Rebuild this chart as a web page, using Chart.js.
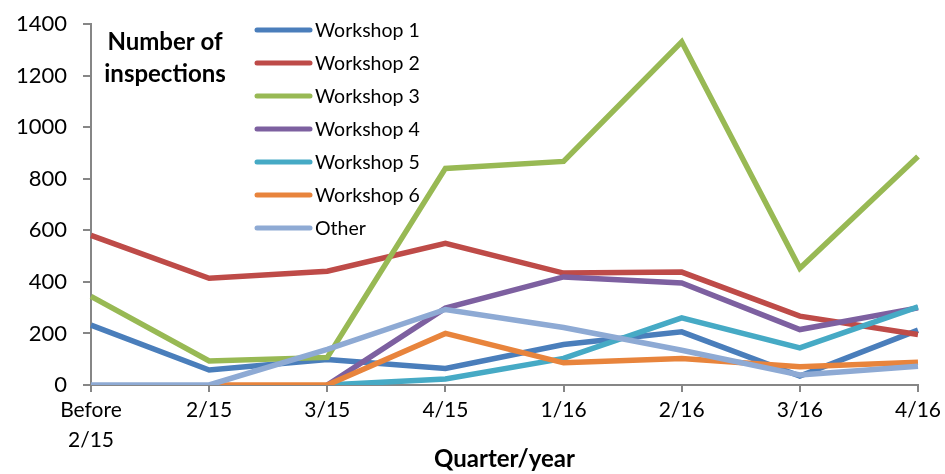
<!DOCTYPE html>
<html>
<head>
    <title>Inspections per quarter</title>
    <style>
        body{ margin:0; background:white; }
        #wrap{ width:945px; height:474px; }
    </style>
</head>
<body>
<div id="wrap"><canvas id="inspections"></canvas></div>

<script src="https://cdn.jsdelivr.net/npm/chart.js@4.4.1/dist/chart.umd.min.js"></script>
<script>
    const quarters = [["Before", "2/15"], "2/15", "3/15", "4/15", "1/16", "2/16", "3/16", "4/16"];
    const yTicks = [0, 200, 400, 600, 800, 1000, 1200, 1400];

    const workshop1 = [232, 58, 99, 64, 157, 206, 35, 213];
    const workshop2 = [580, 414, 441, 549, 434, 438, 267, 196];
    const workshop3 = [344, 93, 107, 840, 867, 1331, 453, 886];
    const workshop4 = [null, null, 0, 298, 419, 396, 215, 299];
    const workshop5 = [null, null, 0, 23, 103, 260, 144, 303];
    const workshop6 = [null, 0, 0, 200, 86, 103, 71, 88];
    const other = [0, 0, 138, 293, 223, 135, 39, 73];

    const seriesNames = ["Workshop 1", "Workshop 2", "Workshop 3", "Workshop 4", "Workshop 5", "Workshop 6", "Other"];
    const seriesData = [workshop1, workshop2, workshop3, workshop4, workshop5, workshop6, other];
    const colors = ["#4A7EBB", "#BE4B48", "#98B954", "#7D60A0", "#46AAC5", "#E8843C", "#8EAAD4"];

    const FONT = "Lato, 'Liberation Sans', sans-serif";

    // legend + "Number of inspections" sit inside the plot, drawn by hand
    const insideLabels = {
        id: "insideLabels",
        afterDraw(chart) {
            const ctx = chart.ctx;
            ctx.save();
            ctx.fillStyle = "#000";
            ctx.font = "bold 24px " + FONT;
            ctx.textAlign = "center";
            ctx.textBaseline = "middle";
            ctx.fillText("Number of", 165, 42);
            ctx.fillText("inspections", 165, 74);

            ctx.font = "19.5px " + FONT;
            ctx.textAlign = "left";
            chart.data.datasets.forEach((ds, i) => {
                const y = 30 + i * 33;
                ctx.strokeStyle = ds.borderColor;
                ctx.lineWidth = 5;
                ctx.lineCap = "round";
                ctx.beginPath();
                ctx.moveTo(257, y);
                ctx.lineTo(310, y);
                ctx.stroke();
                ctx.fillText(ds.label, 315, y + 1);
            });
            ctx.restore();
        }
    };

    new Chart("inspections", {
        type: "line",
        data: {
            labels: quarters,
            datasets: seriesNames.map((name, i) => ({
                label: name,
                data: seriesData[i],
                borderColor: colors[i],
                backgroundColor: colors[i],
                borderWidth: 5.5,
                pointRadius: 0,
                fill: false,
                tension: 0,
                order: seriesNames.length - i
            }))
        },
        options: {
            responsive: true,
            maintainAspectRatio: false,
            animation: false,
            layout: {padding: {top: 24, right: 25, bottom: 0, left: 0}},
            plugins: {
                legend: {display: false},
                tooltip: {enabled: false}
            },
            scales: {
                x: {
                    offset: false,
                    grid: {display: true, drawOnChartArea: false, drawTicks: true, tickLength: 7, color: "#868686", lineWidth: 2},
                    border: {display: true, color: "#868686", width: 2},
                    ticks: {color: "#000", font: {family: FONT, size: 21, lineHeight: 1.4}, padding: 4, maxRotation: 0, autoSkip: false},
                    title: {display: true, text: "Quarter/year", color: "#000", font: {family: FONT, size: 24, weight: "bold"}, padding: {top: 0, bottom: 0}},
                    afterFit: s => { s.height = 89; }
                },
                y: {
                    min: 0,
                    max: 1400,
                    afterBuildTicks: s => { s.ticks = yTicks.map(v => ({value: v})); },
                    grid: {display: true, drawOnChartArea: false, drawTicks: true, tickLength: 8, color: "#868686", lineWidth: 2},
                    border: {display: true, color: "#868686", width: 2},
                    ticks: {color: "#000", font: {family: FONT, size: 22}, padding: 16, callback: v => String(v)},
                    afterFit: s => { s.width = 91; s.paddingTop = 0; s.paddingBottom = 0; }
                }
            }
        },
        plugins: [insideLabels]
    });
</script>
</body>
</html>
